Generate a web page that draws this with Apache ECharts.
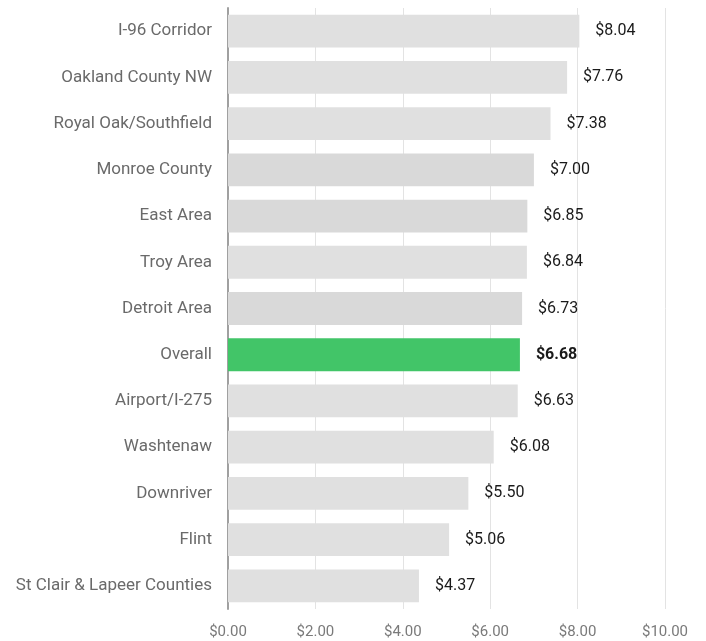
<!DOCTYPE html>
<html>
<head>
<meta charset="utf-8">
<script src="https://cdn.jsdelivr.net/npm/echarts@6/dist/echarts.min.js"></script>
<style>
  html, body { margin: 0; padding: 0; background: #fff; }
  #main { width: 706px; height: 641px; }
</style>
</head>
<body>
<div id="main"></div>
<script>
// top to bottom, as in the picture
var regions = ['I-96 Corridor', 'Oakland County NW', 'Royal Oak/Southfield', 'Monroe County',
  'East Area', 'Troy Area', 'Detroit Area', 'Overall', 'Airport/I-275', 'Washtenaw',
  'Downriver', 'Flint', 'St Clair & Lapeer Counties'];
var prices = [8.04, 7.76, 7.38, 7.00, 6.85, 6.84, 6.73, 6.68, 6.63, 6.08, 5.50, 5.06, 4.37];
var darker = ['Monroe County', 'East Area', 'Detroit Area'];
var highlight = 'Overall';

var chart = echarts.init(document.getElementById('main'));

var barData = regions.map(function (name, i) {
  var item = { value: prices[i], itemStyle: { color: '#e0e0e0' } };
  if (darker.indexOf(name) >= 0) item.itemStyle.color = '#d9d9d9';
  if (name === highlight) {
    item.itemStyle.color = '#42c568';
    item.label = { fontWeight: 'bold' };
  }
  return item;
});

chart.setOption({
  animation: false,
  textStyle: { fontFamily: 'Roboto' },
  grid: { left: 228, right: 41, top: 8, bottom: 32 },
  xAxis: {
    type: 'value',
    min: 0,
    max: 10,
    interval: 2,
    axisLine: { show: false },
    axisTick: { show: false },
    splitLine: { lineStyle: { color: '#e3e3e3', width: 1 } },
    axisLabel: {
      color: '#7a7a7a',
      fontSize: 15,
      margin: 16,
      formatter: function (v) { return '$' + v.toFixed(2); }
    }
  },
  yAxis: {
    type: 'category',
    inverse: true,
    data: regions,
    axisLine: { show: true, lineStyle: { color: '#a0a0a0', width: 2 } },
    axisTick: { show: false },
    axisLabel: { color: '#6a6a6a', fontSize: 17, margin: 16 }
  },
  series: [{
    type: 'bar',
    data: barData,
    barWidth: '71%',
    label: {
      show: true,
      position: 'right',
      distance: 16,
      color: '#1a1a1a',
      fontSize: 16,
      formatter: function (p) { return '$' + p.value.toFixed(2); }
    }
  }]
});
</script>
</body>
</html>
